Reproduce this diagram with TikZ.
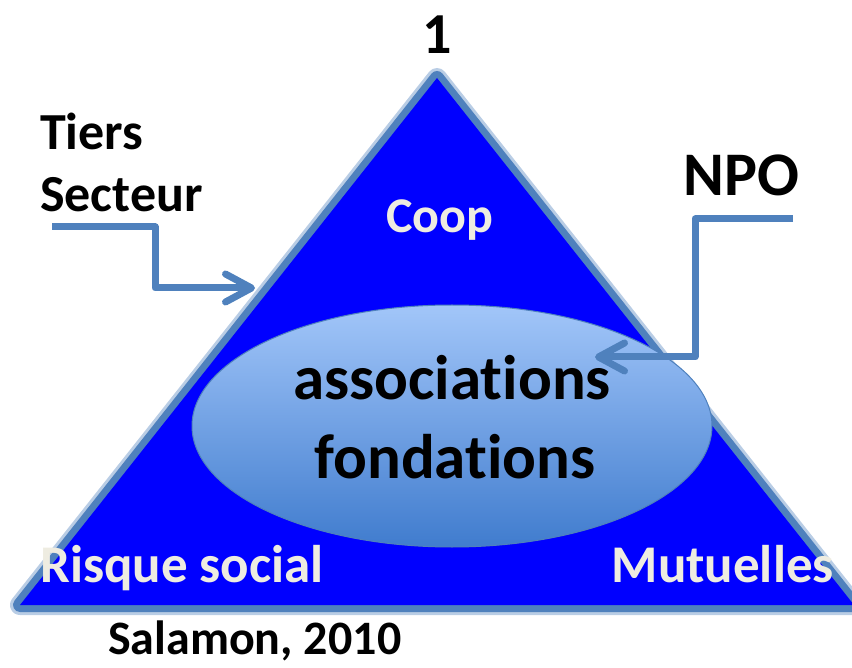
\documentclass[tikz,border=0pt]{standalone}
\usepackage{fontspec}
\setmainfont{Carlito}[Ligatures=NoCommon]
\usetikzlibrary{arrows.meta,shapes.geometric}

\definecolor{pyrblue}{RGB}{0,0,255}
\definecolor{arrowblue}{RGB}{79,129,189}
\definecolor{paletext}{RGB}{238,236,225}
\definecolor{elltop}{RGB}{162,198,249}
\definecolor{ellbot}{RGB}{64,124,206}

\tikzset{
	pointer/.style={draw=arrowblue, line width=7pt, line join=round,
		-{Straight Barb[round, length=26pt, width=28pt]}},
	darktext/.style={font=\bfseries\fontsize{52}{60}\selectfont, text=black, inner sep=0pt},
	palelabel/.style={font=\bfseries\fontsize{53}{60}\selectfont, text=paletext, inner sep=0pt},
	inner/.style={font=\bfseries\fontsize{63}{75}\selectfont, text=black, inner sep=0pt},
}

\begin{document}
\begin{tikzpicture}[x=1pt,y=-1pt]
	\useasboundingbox (0,0) rectangle (852,668);
	\clip (0,0) rectangle (852,668);
	
	\coordinate (apex) at (437, 78);
	\coordinate (left) at (20, 605);
	\coordinate (right) at (854, 605);
	
	\draw[line width=20pt, line join=round, draw=arrowblue!40] (apex) -- (right) -- (left) -- cycle;
	\draw[line width=14pt, line join=round, draw=arrowblue] (apex) -- (right) -- (left) -- cycle;
	\fill[pyrblue] (apex) -- (right) -- (left) -- cycle;
	
	\node[shape=ellipse, draw=arrowblue, line width=1pt, top color=elltop, bottom color=ellbot,
		minimum width=520pt, minimum height=242pt, inner sep=0pt] (assoc) at (452, 426) {};
	
	\node[darktext, font=\bfseries\fontsize{58}{60}\selectfont] (one) at (437, 35) {1};
	\node[darktext, anchor=base west] (tiers) at (40, 150) {Tiers};
	\node[darktext, anchor=base west] (secteur) at (40, 212) {Secteur};
	\node[darktext, font=\bfseries\fontsize{62}{70}\selectfont, anchor=base west] (npo) at (683, 196) {NPO};
	\node[palelabel, font=\bfseries\fontsize{50}{60}\selectfont, anchor=base] (coop) at (440, 233) {Coop};
	\node[inner, anchor=base] (asso) at (452, 400) {associations};
	\node[inner, anchor=base] (fonda) at (455, 478) {fondations};
	\node[palelabel, anchor=base west] (risque) at (40, 582) {Risque social};
	\node[palelabel, anchor=base east] (mutu) at (834, 582) {Mutuelles};
	\node[darktext, font=\bfseries\fontsize{48}{60}\selectfont, anchor=base west] (salamon) at (108, 654) {Salamon, 2010};
	
	\coordinate (tsstart) at (52, 227);
	\coordinate (tsend) at (255, 288);
	\coordinate (npostart) at (793, 219);
	\coordinate (npoend) at (595, 357);
	
	\draw[pointer] (tsstart) -- (155, 227) -- (155, 288) -- (tsend);
	\draw[pointer] (npostart) -- (695, 219) -- (695, 357) -- (npoend);
	
\end{tikzpicture}
\end{document}
